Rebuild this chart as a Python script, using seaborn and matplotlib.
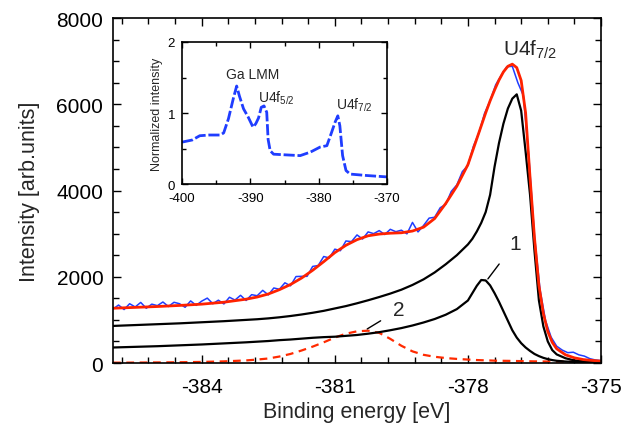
import numpy as np
import pandas as pd
import matplotlib
matplotlib.use("Agg")
import matplotlib.pyplot as plt
from matplotlib.ticker import MultipleLocator
import seaborn as sns

# ---------------- data ----------------
x_fit = [-386.0, -385.5, -385.0, -384.5, -384.0, -383.5, -383.0, -382.75, -382.5, -382.25,
         -382.0, -381.75, -381.5, -381.25, -381.0, -380.75, -380.5, -380.25, -380.0, -379.75,
         -379.5, -379.25, -379.0, -378.75, -378.5, -378.25,
         -378.0, -377.9, -377.8, -377.7, -377.6, -377.5, -377.4, -377.3, -377.2, -377.1,
         -377.0, -376.9, -376.8, -376.7, -376.6, -376.5, -376.4, -376.3, -376.2, -376.1,
         -376.0, -375.8, -375.6, -375.4, -375.2, -375.0]

fit_total = [1270, 1290, 1310, 1335, 1365, 1410, 1480, 1530, 1600, 1700,
             1820, 1970, 2150, 2350, 2560, 2730, 2860, 2950, 2990, 3010,
             3020, 3060, 3150, 3350, 3700, 4100,
             4600, 4900, 5200, 5500, 5800, 6080, 6330, 6560, 6750, 6880,
             6930, 6850, 6550, 5800, 4300, 2900, 1800, 1150, 730, 480,
             330, 190, 120, 80, 60, 45]

comp_main = [860, 880, 900, 920, 945, 970, 1000, 1015, 1035, 1060,
             1090, 1125, 1165, 1210, 1265, 1320, 1385, 1455, 1530, 1610,
             1700, 1810, 1940, 2100, 2290, 2500,
             2750, 2880, 3050, 3250, 3500, 3900, 4550, 5100, 5550, 5900,
             6130, 6230, 5850, 4900, 3900, 2600, 1450, 850, 500, 300,
             200, 110, 60, 40, 30, 25]

comp_1 = [360, 375, 390, 410, 430, 455, 480, 495, 510, 530,
          545, 565, 585, 600, 610, 630, 650, 680, 715, 760,
          810, 870, 940, 1020, 1120, 1250,
          1450, 1620, 1790, 1925, 1915, 1800, 1620, 1420, 1200, 980,
          760, 590, 460, 360, 280, 210, 160, 120, 90, 68,
          52, 35, 25, 20, 17, 15]

comp_2 = [8, 10, 14, 18, 25, 38, 60, 80, 105, 150,
          210, 290, 380, 480, 590, 680, 735, 750, 700, 560,
          400, 270, 190, 145, 115, 95,
          80, 74, 69, 65, 62, 59, 55, 53, 51, 50,
          48, 46, 44, 42, 40, 38, 37, 36, 35, 34,
          33, 31, 29, 27, 25, 23]

x_meas = [-386.0 + 0.125 * i for i in range(89)]
y_meas = [1250, 1345, 1240, 1375, 1300, 1405, 1270, 1365, 1330, 1415,
          1310, 1408, 1375, 1292, 1440, 1337, 1435, 1505, 1375, 1457,
          1370, 1525, 1460, 1570, 1450, 1585, 1560, 1685, 1580, 1740,
          1710, 1860, 1790, 2005, 2010, 2010, 2240, 2260, 2470, 2435,
          2640, 2605, 2830, 2815, 2970, 2875, 3040, 3000, 3070, 2980,
          3100, 3045, 3080, 2995, 3260, 3040, 3190, 3360, 3380, 3600,
          3680, 3980, 4130, 4440, 4580, 5030, 5340, 5790, 6080, 6450,
          6670, 6870, 6880, 6500, 6200, 4750, 2950, 1700, 980, 600,
          390, 300, 240, 250, 190, 160, 100, 70, 55]

# inset survey spectrum
x_inset = [-400.0, -398.5, -397.4, -396.0, -394.4, -393.9, -393.2, -392.5, -392.0, -391.6,
           -391.0, -390.3, -389.6, -389.2, -388.8, -388.4, -388.0, -387.6, -387.4, -387.1,
           -386.6, -384.7, -382.7, -381.2, -379.8, -378.8, -378.1, -377.6, -377.2, -376.9,
           -376.5, -376.0, -375.4, -373.0, -370.0]
y_inset = [0.59, 0.62, 0.68, 0.69, 0.69, 0.72, 0.92, 1.20, 1.38, 1.24,
           1.06, 0.94, 0.80, 0.85, 0.93, 1.08, 1.10, 1.01, 0.63, 0.47,
           0.42, 0.41, 0.40, 0.45, 0.52, 0.54, 0.73, 0.87, 0.96, 0.82,
           0.40, 0.19, 0.14, 0.12, 0.10]

main_xticks = [-384, -381, -378, -375]
inset_xticks = [-400, -390, -380, -370]

# ---------------- style ----------------
sns.set_style("ticks")
plt.rcParams['font.family'] = ['Liberation Sans', 'DejaVu Sans']
plt.rcParams['mathtext.fontset'] = 'custom'
plt.rcParams['mathtext.rm'] = 'Liberation Sans'
plt.rcParams['mathtext.it'] = 'Liberation Sans'

fig = plt.figure(figsize=(6.33, 4.27), dpi=100)
ax = fig.add_axes([0.1785, 0.1475, 0.771, 0.808])

df_fit = pd.DataFrame({"x": x_fit, "total": fit_total, "main": comp_main,
                       "c1": comp_1, "c2": comp_2})
df_meas = pd.DataFrame({"x": x_meas, "y": y_meas})

sns.lineplot(data=df_fit, x="x", y="c2", ax=ax, color="#ff2a00", lw=1.6,
             linestyle=(0, (3.5, 2.5)), sort=False, estimator=None)
sns.lineplot(data=df_fit, x="x", y="c1", ax=ax, color="black", lw=1.6,
             sort=False, estimator=None)
sns.lineplot(data=df_fit, x="x", y="main", ax=ax, color="black", lw=1.6,
             sort=False, estimator=None)
sns.lineplot(data=df_meas, x="x", y="y", ax=ax, color="#1f3dff", lw=1.1,
             sort=False, estimator=None)
sns.lineplot(data=df_fit, x="x", y="total", ax=ax, color="#ff2200", lw=2.0,
             sort=False, estimator=None)

ax.set_xlim(-386, -375)
ax.set_ylim(0, 8000)
ax.set_xticks(main_xticks)
ax.set_xticklabels([str(t) for t in main_xticks])
ax.set_yticks([0, 2000, 4000, 6000, 8000])
ax.xaxis.set_minor_locator(MultipleLocator(0.6))
ax.yaxis.set_minor_locator(MultipleLocator(500))
ax.tick_params(which="both", direction="in", top=True, right=True, labelsize=15,
               width=1.0, colors="black")
ax.tick_params(axis="x", which="major", length=6, pad=10)
ax.tick_params(axis="y", which="major", length=6, pad=7)
ax.tick_params(which="minor", length=4)
for s in ax.spines.values():
    s.set_linewidth(1.2)
    s.set_color("black")
ax.set_xlabel("Binding energy [eV]", fontsize=15.5, labelpad=4)
ax.set_ylabel("Intensity [arb.units]", fontsize=15.5, labelpad=12)

ax.text(-376.6, 7280, r"U4f$_{7/2}$", fontsize=15, ha="center", va="center")
ax.annotate("1", xy=(-377.55, 1950), xytext=(-376.94, 2780), fontsize=15,
            ha="center", va="center",
            arrowprops=dict(arrowstyle="-", color="black", lw=1.0, shrinkA=8, shrinkB=0))
ax.annotate("2", xy=(-380.27, 790), xytext=(-379.55, 1240), fontsize=15,
            ha="center", va="center",
            arrowprops=dict(arrowstyle="-", color="black", lw=1.0, shrinkA=8, shrinkB=0))

# ---------------- inset ----------------
axi = fig.add_axes([0.2875, 0.5667, 0.3239, 0.3326])
df_in = pd.DataFrame({"x": x_inset, "y": y_inset})
sns.lineplot(data=df_in, x="x", y="y", ax=axi, color="#1f3dff", lw=2.0,
             linestyle=(0, (4, 1)), sort=False, estimator=None)
axi.set_xlim(-400, -370)
axi.set_ylim(0, 2)
axi.set_xticks(inset_xticks)
axi.set_xticklabels([str(t) for t in inset_xticks])
axi.set_yticks([0, 1, 2])
axi.xaxis.set_minor_locator(MultipleLocator(5))
axi.yaxis.set_minor_locator(MultipleLocator(0.5))
axi.tick_params(which="both", direction="in", top=True, right=True, labelsize=9.5,
                width=1.0, colors="black")
axi.tick_params(axis="x", which="major", length=4, pad=6)
axi.tick_params(axis="y", which="major", length=4, pad=5)
axi.tick_params(which="minor", length=3)
for s in axi.spines.values():
    s.set_linewidth(1.2)
    s.set_color("black")
axi.set_xlabel("")
axi.set_ylabel("Normalized intensity", fontsize=9, labelpad=3)
axi.text(-389.6, 1.55, "Ga LMM", fontsize=10, ha="center", va="center")
axi.text(-386.2, 1.22, r"U4f$_{5/2}$", fontsize=10, ha="center", va="center")
axi.text(-374.8, 1.12, r"U4f$_{7/2}$", fontsize=10, ha="center", va="center")

fig.savefig("out.png", dpi=100)
